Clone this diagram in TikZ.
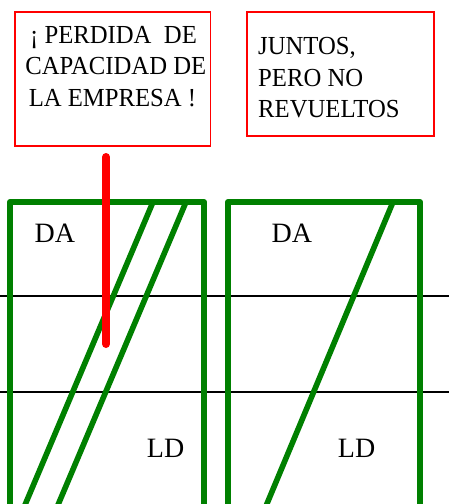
\documentclass[tikz,border=0pt]{standalone}
\usepackage{fontspec}
\setmainfont{Liberation Serif}
\newfontfamily\boxfont[FakeStretch=0.95]{Liberation Serif}
\definecolor{dgreen}{RGB}{0,128,0}
\begin{document}
\begin{tikzpicture}[x={(1pt,0pt)},y={(0pt,-1pt)},
  redbox/.style={draw=red, line width=1.7pt, inner sep=0pt, anchor=north west},
  txt/.style={font=\boxfont\fontsize{26}{31.5}\selectfont, inner sep=0pt},
  lbl/.style={font=\fontsize{28}{33}\selectfont, inner sep=0pt, anchor=base west},
  frame/.style={draw=dgreen, line width=6pt, line join=round},
  diag/.style={draw=dgreen, line width=5.6pt},
  rule/.style={draw=black, line width=1.7pt},
  pin/.style={draw=red, line width=8pt, line cap=round}]
\useasboundingbox (0,0) rectangle (449,504);
\clip (0,0) rectangle (449,504);
% red boxes
\node[redbox, minimum width=195.3pt, minimum height=134.2pt] (loss) at (14.2,10.8) {};
\node[txt, anchor=base] (l1) at (113.5,43.3) {¡ PERDIDA\ \ DE};
\node[txt, anchor=base] (l2) at (115.8,74.3) {CAPACIDAD DE};
\node[txt, anchor=base] (l3) at (112.5,106) {LA EMPRESA !};
\node[redbox, minimum width=187pt, minimum height=124.4pt] (juntos) at (246.3,10.8) {};
\node[txt, anchor=base west] (r1) at (258,54) {JUNTOS,};
\node[txt, anchor=base west] (r2) at (258,86) {PERO NO};
\node[txt, anchor=base west] (r3) at (258,117.3) {REVUELTOS};
% black horizontal rules
\coordinate (h1a) at (0,295.7); \coordinate (h1b) at (449,295.7);
\coordinate (h2a) at (0,391.7); \coordinate (h2b) at (449,391.7);
\draw[rule] (h1a) -- (h1b);
\draw[rule] (h2a) -- (h2b);
% green frames
\coordinate (fa1) at (10,515); \coordinate (fa2) at (10,202);
\coordinate (fa3) at (204,202); \coordinate (fa4) at (204,515);
\draw[frame] (fa1) -- (fa2) -- (fa3) -- (fa4);
\coordinate (fb1) at (228,515); \coordinate (fb2) at (228,202);
\coordinate (fb3) at (420,202); \coordinate (fb4) at (420,515);
\draw[frame] (fb1) -- (fb2) -- (fb3) -- (fb4);
% diagonals
\coordinate (d1t) at (153,202); \coordinate (d1b) at (22,512);
\coordinate (d2t) at (186,202); \coordinate (d2b) at (55,512);
\coordinate (d3t) at (393,202); \coordinate (d3b) at (263.5,512);
\draw[diag] (d1t) -- (d1b);
\draw[diag] (d2t) -- (d2b);
\draw[diag] (d3t) -- (d3b);
% labels
\node[lbl] (da1) at (34.5,242) {DA};
\node[lbl] (da2) at (271.5,242) {DA};
\node[lbl] (ld1) at (146.7,457) {LD};
\node[lbl] (ld2) at (337.7,457) {LD};
% red pin
\coordinate (pt) at (106,157); \coordinate (pb) at (106,344);
\draw[pin] (pt) -- (pb);
\end{tikzpicture}
\end{document}
